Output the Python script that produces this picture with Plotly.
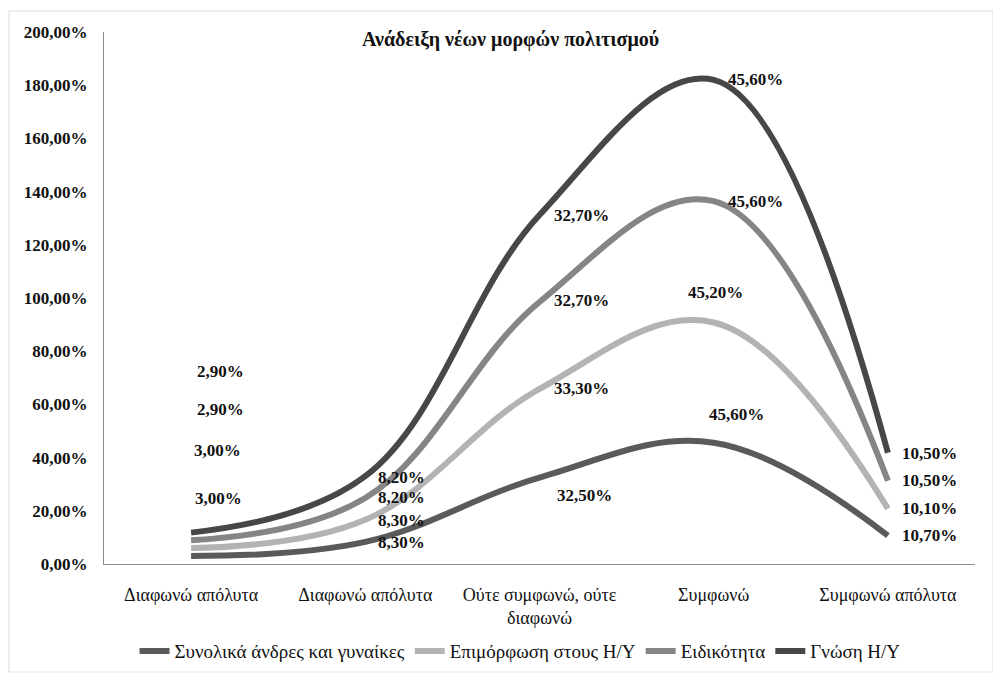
import plotly.graph_objects as go
import numpy as np

categories = ["Διαφωνώ απόλυτα", "Διαφωνώ απόλυτα", "Ούτε συμφωνώ, ούτε<br>διαφωνώ", "Συμφωνώ", "Συμφωνώ απόλυτα"]
series_names = ["Συνολικά άνδρες και γυναίκες", "Επιμόρφωση στους Η/Υ", "Ειδικότητα", "Γνώση Η/Υ"]
synolika = [3.00, 8.30, 32.50, 45.60, 10.70]
epimorfosi = [3.00, 8.30, 33.30, 45.20, 10.10]
eidikotita = [2.90, 8.20, 32.70, 45.60, 10.50]
gnosi = [2.90, 8.20, 32.70, 45.60, 10.50]
colors = ["#5a5a5a", "#b3b3b3", "#858585", "#474747"]

ytick_vals = [0, 20, 40, 60, 80, 100, 120, 140, 160, 180, 200]
ytick_text = ["0,00%", "20,00%", "40,00%", "60,00%", "80,00%", "100,00%", "120,00%",
              "140,00%", "160,00%", "180,00%", "200,00%"]

# label placement (layout only), per series, per category
label_x = [
    [0.16, 1.21, 2.26, 3.13, 4.24],
    [0.15, 1.21, 2.24, 3.01, 4.24],
    [0.17, 1.21, 2.24, 3.24, 4.24],
    [0.17, 1.21, 2.24, 3.24, 4.24],
]
label_y = [
    [24.6, 8.2, 25.7, 56.2, 10.8],
    [42.5, 16.4, 65.9, 102.0, 20.9],
    [58.1, 25.0, 99.1, 136.3, 31.3],
    [72.3, 32.4, 131.1, 182.1, 41.7],
]

SERIF = "Liberation Serif"

all_series = [synolika, epimorfosi, eidikotita, gnosi]
x_idx = list(range(len(categories)))

# page has an 8px body margin: figure coords = page coords - 8
W, H = 993, 674
L, R, T, B = 96, 26, 24, 113
PW, PH = W - L - R, H - T - B


def px_x(px):
    return (px - 8 - L) / PW


def px_y(py):
    return (H - B - (py - 8)) / PH


fig = go.Figure()
cum = np.zeros(len(categories))
for name, vals, col in zip(series_names, all_series, colors):
    cum = cum + np.array(vals)
    fig.add_trace(go.Scatter(
        x=x_idx, y=cum.tolist(), name=name, mode="lines",
        line=dict(color=col, width=6, shape="spline", smoothing=1.1),
        hoverinfo="skip",
    ))


def fmt(v):
    return f"{v:.2f}".replace(".", ",") + "%"


for si, vals in enumerate(all_series):
    for ci, v in enumerate(vals):
        fig.add_annotation(x=label_x[si][ci], y=label_y[si][ci], xref="x", yref="y",
                           text=f"<b>{fmt(v)}</b>", showarrow=False, xanchor="center", yanchor="middle",
                           font=dict(family=SERIF, size=17, color="#111111"))

fig.add_annotation(x=px_x(510), y=px_y(40), xref="paper", yref="paper",
                   text="<b>Ανάδειξη νέων μορφών πολιτισμού</b>", showarrow=False,
                   xanchor="center", yanchor="middle",
                   font=dict(family=SERIF, size=20, color="#111111"))

fig.add_shape(type="rect", xref="paper", yref="paper",
              x0=px_x(9), x1=px_x(993), y0=px_y(678), y1=px_y(11),
              line=dict(color="#e2e2e2", width=1.2), layer="below")

fig.update_layout(
    width=W, height=H,
    margin=dict(l=L, r=R, t=T, b=B),
    paper_bgcolor="white", plot_bgcolor="white",
    font=dict(family=SERIF, color="#111111"),
    showlegend=True,
    legend=dict(orientation="h", x=px_x(520), xanchor="center", y=px_y(657), yanchor="middle",
                font=dict(family=SERIF, size=19, color="#111111"),
                itemwidth=30, tracegroupgap=0),
    xaxis=dict(range=[-0.5, 4.5], tickmode="array", tickvals=x_idx, ticktext=categories,
               showline=True, linecolor="#8c8c8c", linewidth=1.2, showgrid=False,
               zeroline=False, ticks="outside", ticklen=14, tickcolor="rgba(0,0,0,0)",
               tickfont=dict(family=SERIF, size=18, color="#111111")),
    yaxis=dict(range=[0, 200], tickmode="array", tickvals=ytick_vals,
               ticktext=[f"<b>{t}</b>" for t in ytick_text],
               showline=True, linecolor="#8c8c8c", linewidth=1.2, showgrid=False,
               zeroline=False, ticks="outside", ticklen=12, tickcolor="rgba(0,0,0,0)",
               tickfont=dict(family=SERIF, size=17, color="#111111")),
)

fig.write_html("out.html")
